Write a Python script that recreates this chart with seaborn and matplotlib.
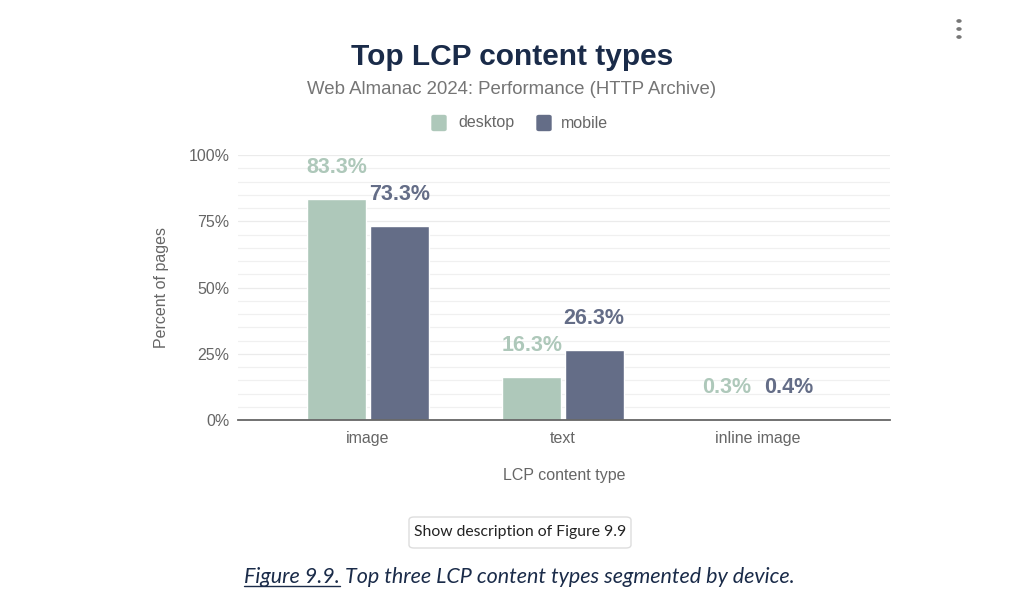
import numpy as np
import pandas as pd

import matplotlib
matplotlib.use("Agg")
import matplotlib.pyplot as plt
from matplotlib.patches import FancyBboxPatch
import seaborn as sns

categories = ["image", "text", "inline image"]
devices = ["desktop", "mobile"]
desktop = [83.3, 16.3, 0.3]
mobile = [73.3, 26.3, 0.4]
yticks = [0, 25, 50, 75, 100]
ytick_labels = ["0%", "25%", "50%", "75%", "100%"]

palette = {"desktop": "#aec8ba", "mobile": "#646d87"}

df = pd.DataFrame({
    "type": categories * 2,
    "device": ["desktop"] * 3 + ["mobile"] * 3,
    "value": desktop + mobile,
})

sns.set_theme(style="white")
plt.rcParams["font.family"] = ["Liberation Sans", "DejaVu Sans"]

fig = plt.figure(figsize=(10.24, 6.13), dpi=100)
fig.patch.set_facecolor("white")
ax = fig.add_axes([238 / 1024, 1 - 420 / 613, (890 - 238) / 1024, (420 - 155) / 613])

sns.barplot(data=df, x="type", y="value", hue="device", order=categories,
            hue_order=devices, palette=palette, width=0.64, gap=0.05,
            saturation=1, legend=False, ax=ax)

ax.set_xlim(-0.667, 2.677)
ax.set_ylim(0, 100)

# light gridlines every 5%
for y in np.arange(5, 101, 5):
    ax.axhline(y, color="#f0f0f0" if y % 25 else "#ebebeb", lw=0.9, zorder=0)
ax.set_axisbelow(True)

for sp in ["top", "right", "left"]:
    ax.spines[sp].set_visible(False)
ax.spines["bottom"].set_color("#666666")
ax.spines["bottom"].set_linewidth(1.3)

ax.set_yticks(yticks)
ax.set_yticklabels(ytick_labels)
ax.tick_params(axis="both", length=0, labelsize=11.5, labelcolor="#666666", pad=8)
ax.tick_params(axis="y", pad=6)

ax.set_xlabel("LCP content type", fontsize=11.5, color="#666666", labelpad=16)
ax.set_ylabel("Percent of pages", fontsize=11.5, color="#666666", labelpad=14)

# value labels above bars
for container, dev in zip(ax.containers, devices):
    for bar in container:
        h = bar.get_height()
        ax.annotate(f"{h:.1f}%", (bar.get_x() + bar.get_width() / 2, h),
                    xytext=(0, 15), textcoords="offset points",
                    ha="center", va="bottom", fontsize=15.5, fontweight="bold",
                    color=palette[dev], annotation_clip=False)

# title, subtitle, legend
fig.text(0.5, 1 - 57 / 613, "Top LCP content types", ha="center", va="center",
         fontsize=21.5, fontweight="heavy", color="#1a2b49")
fig.text(0.5, 1 - 90 / 613, "Web Almanac 2024: Performance (HTTP Archive)",
         ha="center", va="center", fontsize=13.4, color="#757575")

ly = 1 - 123 / 613
for dev, sx, tx in [("desktop", 432, 458), ("mobile", 537, 561)]:
    fig.patches.append(FancyBboxPatch((sx / 1024, ly - 7.5 / 613), 14 / 1024, 15 / 613,
                                      boxstyle="round,pad=0,rounding_size=0.002",
                                      transform=fig.transFigure, color=palette[dev]))
    fig.text(tx / 1024, ly, dev, ha="left", va="center", fontsize=11.5, color="#666666")

# three-dot menu
for dy in (-8, 0, 8):
    fig.patches.append(plt.Circle((959 / 1024, 1 - (29 + dy) / 613), 0.0019,
                                  transform=fig.transFigure, color="#777777"))

# description button
fig.patches.append(FancyBboxPatch((409 / 1024, 1 - 548 / 613), 222 / 1024, 31 / 613,
                                  boxstyle="round,pad=0,rounding_size=0.005",
                                  transform=fig.transFigure, facecolor="white",
                                  edgecolor="#dddddd", lw=1))
fig.text(520 / 1024, 1 - 532 / 613, "Show description of Figure 9.9",
         ha="center", va="center", fontsize=11.3, family=["Lato", "DejaVu Sans"],
         color="#222222")

# caption
cap_y = 1 - 577 / 613
t1 = fig.text(244 / 1024, cap_y, "Figure 9.9.", ha="left", va="center",
              fontsize=15.5, style="italic", family=["Lato", "DejaVu Sans"],
              color="#1a2b49")
fig.canvas.draw()
bb = t1.get_window_extent().transformed(fig.transFigure.inverted())
fig.add_artist(plt.Line2D([bb.x0, bb.x1], [bb.y0 + 0.002, bb.y0 + 0.002],
                          transform=fig.transFigure, color="#1a2b49", lw=1))
fig.text(bb.x1 + 5 / 1024, cap_y, "Top three LCP content types segmented by device.",
         ha="left", va="center", fontsize=15.5, style="italic",
         family=["Lato", "DejaVu Sans"], color="#1a2b49")

fig.savefig("out.png", dpi=100, facecolor="white")
